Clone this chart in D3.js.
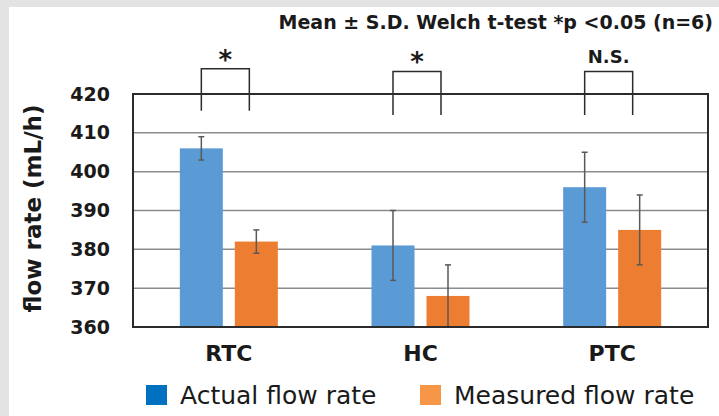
<!DOCTYPE html>
<html>
<head>
<meta charset="utf-8">
<script src="https://cdn.jsdelivr.net/npm/d3@7"></script>
<style>
  body { margin: 0; background: #e3e3e3; }
  svg { display: block; }
  text { font-family: "DejaVu Sans", sans-serif; fill: #1a1a1a; }
</style>
</head>
<body>
<svg id="chart"></svg>
<script>
// Data
const categories = ['RTC', 'HC', 'PTC'];
const seriesNames = ['Actual flow rate', 'Measured flow rate'];
const actualMean = [406, 381, 396];
const actualSD = [3, 9, 9];
const measuredMean = [382, 368, 385];
const measuredSD = [3, 8, 9];
const significance = ['*', '*', 'N.S.'];
const yTicks = [360, 370, 380, 390, 400, 410, 420];
const titleText = 'Mean \u00b1 S.D. Welch t-test *p <0.05 (n=6)';

const width = 719, height = 416;
const margin = { top: 94, right: 11, bottom: 89, left: 133 };

const svg = d3.select('#chart')
  .attr('width', width)
  .attr('height', height);

// White panel
svg.append('rect')
  .attr('x', 9).attr('y', 7)
  .attr('width', width - 9).attr('height', height - 7)
  .attr('fill', '#fff');

const x = d3.scaleBand()
  .domain(categories)
  .range([margin.left, width - margin.right])
  .paddingInner(0).paddingOuter(0);

const bw = 43, gap = 12;
const xSeries = d3.scaleOrdinal()
  .domain([0, 1])
  .range([(x.bandwidth() - 2 * bw - gap) / 2, (x.bandwidth() + gap) / 2]);

const y = d3.scaleLinear()
  .domain([360, 420])
  .range([height - margin.bottom, margin.top]);

const barColors = ['#5b9bd5', '#ed7d31'];
const legendColors = ['#0070c0', '#f79646'];

// Gridlines
svg.append('g')
  .selectAll('line')
  .data(yTicks.slice(1, -1))
  .join('line')
    .attr('x1', margin.left).attr('x2', width - margin.right)
    .attr('y1', d => y(d)).attr('y2', d => y(d))
    .attr('stroke', '#8c8c8c')
    .attr('stroke-width', 1.5);

// Bars
const rows = categories.map((c, i) => [
  { cat: c, s: 0, mean: actualMean[i], sd: actualSD[i] },
  { cat: c, s: 1, mean: measuredMean[i], sd: measuredSD[i] }
]).flat();

svg.append('g')
  .selectAll('rect')
  .data(rows)
  .join('rect')
    .attr('x', d => x(d.cat) + xSeries(d.s))
    .attr('y', d => y(d.mean))
    .attr('width', bw)
    .attr('height', d => y(360) - y(d.mean))
    .attr('fill', d => barColors[d.s]);

// Error bars
const err = svg.append('g')
  .attr('stroke', '#595959')
  .attr('stroke-width', 1.5);

err.selectAll('line.v')
  .data(rows)
  .join('line')
    .attr('class', 'v')
    .attr('x1', d => x(d.cat) + xSeries(d.s) + bw / 2)
    .attr('x2', d => x(d.cat) + xSeries(d.s) + bw / 2)
    .attr('y1', d => y(Math.min(420, d.mean + d.sd)))
    .attr('y2', d => y(Math.max(360, d.mean - d.sd)));

err.selectAll('line.cap')
  .data(rows.flatMap(d => [d.mean + d.sd, d.mean - d.sd]
    .filter(v => v > 360 && v < 420)
    .map(v => ({ ...d, v }))))
  .join('line')
    .attr('class', 'cap')
    .attr('x1', d => x(d.cat) + xSeries(d.s) + bw / 2 - 3)
    .attr('x2', d => x(d.cat) + xSeries(d.s) + bw / 2 + 3)
    .attr('y1', d => y(d.v)).attr('y2', d => y(d.v));

// Plot frame
svg.append('rect')
  .attr('x', margin.left).attr('y', margin.top)
  .attr('width', width - margin.right - margin.left)
  .attr('height', height - margin.bottom - margin.top)
  .attr('fill', 'none')
  .attr('stroke', '#2b2b2b')
  .attr('stroke-width', 2);

// Y axis labels
const yAxis = svg.append('g')
  .attr('transform', `translate(${margin.left},0)`)
  .call(d3.axisLeft(y).tickValues(yTicks).tickSize(0).tickPadding(23));
yAxis.select('.domain').remove();
yAxis.selectAll('text')
  .style('font-family', '"DejaVu Sans", sans-serif')
  .style('font-weight', 'bold')
  .style('font-size', '19px')
  .attr('fill', '#1a1a1a');

// X axis labels
const xAxis = svg.append('g')
  .attr('transform', `translate(0,${height - margin.bottom})`)
  .call(d3.axisBottom(x).tickSize(0).tickPadding(18));
xAxis.select('.domain').remove();
xAxis.selectAll('text')
  .style('font-family', '"DejaVu Sans", sans-serif')
  .style('font-weight', 'bold')
  .style('font-size', '22px')
  .attr('fill', '#1a1a1a');

// Y axis title
svg.append('text')
  .attr('transform', `translate(41,${y(390) - 2}) rotate(-90)`)
  .attr('text-anchor', 'middle')
  .style('font-weight', 'bold')
  .style('font-size', '23px')
  .text('flow rate (mL/h)');

// Title
svg.append('text')
  .attr('x', width - 6)
  .attr('y', 29)
  .attr('text-anchor', 'end')
  .style('font-weight', 'bold')
  .style('font-size', '19px')
  .text(titleText);

// Significance brackets
const brackets = svg.append('g');
categories.forEach((c, i) => {
  const x0 = x(c) + xSeries(0) + bw / 2;
  const x1 = x0 + bw + 5;
  const top = i === 0 ? 426.5 : 425.8;
  const bottom = i === 0 ? 415.7 : 414.6;
  brackets.append('path')
    .attr('d', `M${x0},${y(bottom)}V${y(top)}H${x1}V${y(bottom)}`)
    .attr('fill', 'none')
    .attr('stroke', '#2b2b2b')
    .attr('stroke-width', 1.5);
  const isStar = significance[i] === '*';
  brackets.append('text')
    .attr('x', (x0 + x1) / 2)
    .attr('y', y(top) - (isStar ? 0 : 8.5))
    .attr('text-anchor', 'middle')
    .style('font-weight', 'bold')
    .style('font-size', isStar ? '26px' : '18px')
    .text(significance[i]);
});

// Legend
const legend = svg.append('g')
  .attr('transform', `translate(146,385)`);
const legendX = [0, 274];
seriesNames.forEach((name, i) => {
  const g = legend.append('g').attr('transform', `translate(${legendX[i]},0)`);
  g.append('rect')
    .attr('width', 21).attr('height', 20)
    .attr('fill', legendColors[i]);
  g.append('text')
    .attr('x', 34).attr('y', 19)
    .style('font-size', '25px')
    .attr('fill', '#1a1a2e')
    .text(name);
});
</script>
</body>
</html>
